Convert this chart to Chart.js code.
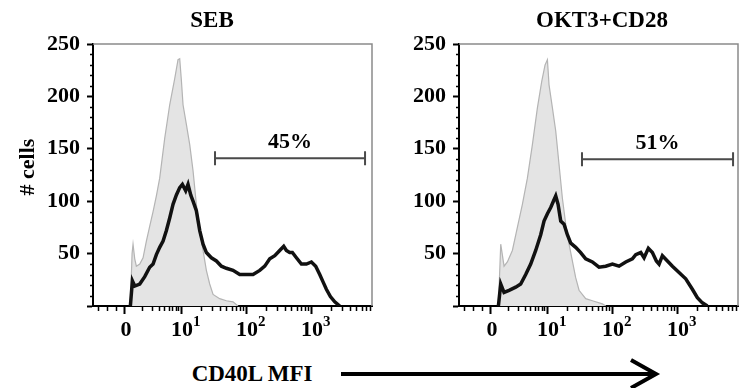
<!DOCTYPE html>
<html>
<head>
<meta charset="utf-8">
<script src="https://cdn.jsdelivr.net/npm/chart.js@4.4.1/dist/chart.umd.min.js"></script>
<style>
  body { margin: 0; background: #fff; }
  #wrap { position: relative; width: 741px; height: 388px; overflow: hidden; background: #fff; }
  canvas { position: absolute; top: 0; }
  #xTitle {
    position: absolute; left: 152px; top: 361px; width: 200px; text-align: center;
    font: bold 23px "Liberation Serif", "Times New Roman", serif; line-height: 26px; color: #000;
  }
  #arrow { position: absolute; left: 0; top: 0; }
</style>
</head>
<body>
<div id="wrap">
  <canvas id="sebChart" width="375" height="340" style="left:0;width:375px;height:340px"></canvas>
  <canvas id="oktChart" width="375" height="340" style="left:366px;width:375px;height:340px"></canvas>
  <div id="xTitle">CD40L MFI</div>
  <svg id="arrow" width="741" height="388">
    <line x1="341" y1="374" x2="655" y2="374" stroke="#000" stroke-width="4"/>
    <polyline points="631,360 656,374 631,388" fill="none" stroke="#000" stroke-width="4"/>
  </svg>
</div>
<script>
// x values are in display (logicle) units: 1 = 10^1, 2 = 10^2, 3 = 10^3
const xMajorTicks = [0.138, 1, 2, 3];
const xTickBase = ['0', '10', '10', '10'];
const xTickExp = ['', '1', '2', '3'];
const yMajorTicks = [0, 50, 100, 150, 200, 250];

// SEB panel
const sebIsoX = [0.221, 0.247, 0.262, 0.288, 0.313, 0.365, 0.416, 0.467, 0.518, 0.570, 0.621, 0.672, 0.749, 0.826, 0.903, 0.954, 0.980, 1.006, 1.031, 1.083, 1.134, 1.185, 1.236, 1.288, 1.339, 1.390, 1.441, 1.493, 1.595, 1.698, 1.800, 1.877];
const sebIsoY = [0, 50, 59, 45, 38, 40, 46, 62, 76, 90, 105, 122, 160, 192, 217, 235, 236, 215, 192, 173, 154, 129, 97, 72, 53, 34, 21, 11, 7, 5, 4, 0];
const sebStimX = [0.221, 0.252, 0.288, 0.365, 0.442, 0.518, 0.570, 0.621, 0.672, 0.724, 0.775, 0.826, 0.877, 0.929, 0.980, 1.021, 1.072, 1.108, 1.149, 1.185, 1.236, 1.288, 1.339, 1.390, 1.467, 1.544, 1.621, 1.698, 1.800, 1.903, 2.006, 2.108, 2.211, 2.288, 2.365, 2.442, 2.518, 2.580, 2.621, 2.672, 2.713, 2.775, 2.852, 2.929, 3.006, 3.072, 3.134, 3.185, 3.236, 3.298, 3.365, 3.442];
const sebStimY = [0, 24, 19, 21, 28, 37, 40, 49, 56, 62, 72, 84, 97, 106, 113, 116, 110, 116, 106, 100, 91, 72, 59, 51, 46, 43, 38, 36, 34, 30, 30, 30, 34, 38, 45, 48, 53, 57, 53, 51, 51, 46, 40, 40, 42, 38, 30, 23, 16, 9, 4, 0];

// OKT3+CD28 panel
const oktIsoX = [0.252, 0.288, 0.339, 0.390, 0.467, 0.544, 0.621, 0.698, 0.775, 0.852, 0.918, 0.970, 1.006, 1.031, 1.083, 1.134, 1.185, 1.236, 1.288, 1.339, 1.390, 1.441, 1.493, 1.595, 1.698, 1.852, 1.903];
const oktIsoY = [0, 59, 38, 42, 53, 75, 97, 122, 154, 189, 214, 230, 235, 211, 189, 167, 135, 103, 78, 59, 43, 27, 15, 7, 5, 2, 0];
const oktStimX = [0.252, 0.288, 0.339, 0.416, 0.518, 0.595, 0.672, 0.749, 0.826, 0.903, 0.954, 1.006, 1.057, 1.098, 1.134, 1.170, 1.211, 1.262, 1.313, 1.365, 1.441, 1.518, 1.595, 1.698, 1.800, 1.903, 2.006, 2.108, 2.211, 2.313, 2.365, 2.442, 2.493, 2.559, 2.621, 2.682, 2.724, 2.775, 2.852, 2.929, 3.031, 3.134, 3.236, 3.313, 3.390, 3.467];
const oktStimY = [0, 21, 13, 15, 18, 21, 30, 40, 53, 68, 81, 88, 94, 100, 105, 97, 81, 78, 68, 60, 56, 51, 45, 42, 37, 38, 40, 38, 42, 45, 49, 51, 46, 55, 51, 43, 40, 48, 43, 38, 32, 26, 16, 8, 3, 0];

const panelTitles = ['SEB', 'OKT3+CD28'];
const gatePercents = ['45%', '51%'];
const sebGate = [1.523, 3.831, 141];
const oktGate = [1.538, 3.862, 140];

const serif = '"Liberation Serif", "Times New Roman", serif';

// minor ticks
const yMinorTicks = [];
for (let v = 10; v < 250; v += 10) if (v % 50 !== 0) yMinorTicks.push(v);
const xMinorTicks = [];
[1, 2, 3].forEach(n => xMinorTicks.push(xMajorTicks[0] - 0.14 * n));
for (let m = 2; m <= 9; m++) xMinorTicks.push(xMajorTicks[0] + (1 - xMajorTicks[0]) * Math.log10(m));
[1, 2, 3].forEach(k => { for (let m = 2; m <= 9; m++) xMinorTicks.push(k + Math.log10(m)); });

const panelDecor = {
    id: 'panelDecor',
    afterDraw(chart, args, opts) {
        const { ctx, chartArea: a } = chart;
        const x = chart.scales.x, y = chart.scales.y;
        ctx.save();
        // top / right frame
        ctx.strokeStyle = '#8a8a8a';
        ctx.lineWidth = 1.5;
        ctx.beginPath();
        ctx.moveTo(a.left, a.top);
        ctx.lineTo(a.right, a.top);
        ctx.lineTo(a.right, a.bottom);
        ctx.stroke();

        // minor ticks
        ctx.strokeStyle = '#000';
        ctx.lineWidth = 1.5;
        ctx.beginPath();
        yMinorTicks.forEach(v => {
            const py = Math.round(y.getPixelForValue(v)) + 0.5;
            ctx.moveTo(a.left - 3, py);
            ctx.lineTo(a.left, py);
        });
        xMinorTicks.forEach(v => {
            if (v < x.min || v > x.max) return;
            const px = Math.round(x.getPixelForValue(v)) + 0.5;
            ctx.moveTo(px, a.bottom);
            ctx.lineTo(px, a.bottom + 5);
        });
        ctx.stroke();

        // x tick labels with superscript exponents
        ctx.fillStyle = '#000';
        ctx.textBaseline = 'middle';
        xMajorTicks.forEach((v, i) => {
            const px = x.getPixelForValue(v) + 1;
            ctx.font = 'bold 22px ' + serif;
            ctx.textAlign = 'center';
            ctx.fillText(xTickBase[i], px, 330);
            if (xTickExp[i]) {
                const w = ctx.measureText(xTickBase[i]).width;
                ctx.font = 'bold 15px ' + serif;
                ctx.textAlign = 'left';
                ctx.fillText(xTickExp[i], px + w / 2, 322);
            }
        });

        // gate bar
        const g = opts.gate;
        const gx1 = x.getPixelForValue(g[0]), gx2 = x.getPixelForValue(g[1]);
        const gy = y.getPixelForValue(g[2]);
        ctx.strokeStyle = '#4a4a4a';
        ctx.lineWidth = 2;
        ctx.beginPath();
        ctx.moveTo(gx1, gy); ctx.lineTo(gx2, gy);
        ctx.moveTo(gx1, gy - 7); ctx.lineTo(gx1, gy + 7);
        ctx.moveTo(gx2, gy - 7); ctx.lineTo(gx2, gy + 7);
        ctx.stroke();

        ctx.font = 'bold 22px ' + serif;
        ctx.textAlign = 'center';
        ctx.fillText(opts.percent, (gx1 + gx2) / 2, gy - 16);

        // panel title
        ctx.font = 'bold 23px ' + serif;
        ctx.fillText(opts.title, opts.titleX, 21);

        // y axis title
        if (opts.yTitle) {
            ctx.translate(28, 167);
            ctx.rotate(-Math.PI / 2);
            ctx.font = 'bold 22px ' + serif;
            ctx.fillText(opts.yTitle, 0, 0);
        }
        ctx.restore();
    }
};

function toPoints(xs, ys) {
    return xs.map((v, i) => ({ x: v, y: ys[i] }));
}

function drawPanel(canvasId, isoX, isoY, stimX, stimY, decor) {
    const ctx = document.getElementById(canvasId).getContext('2d');
    return new Chart(ctx, {
        type: 'line',
        data: {
            datasets: [{
                data: toPoints(stimX, stimY),
                borderColor: '#111',
                borderWidth: 3.5,
                fill: false,
                pointRadius: 0,
                tension: 0,
                order: 0
            }, {
                data: toPoints(isoX, isoY),
                borderColor: '#b4b4b4',
                borderWidth: 1.2,
                backgroundColor: '#e4e4e4',
                fill: 'origin',
                pointRadius: 0,
                tension: 0,
                order: 1
            }]
        },
        options: {
            responsive: false,
            animation: false,
            events: [],
            layout: { padding: { top: 44, right: 3, left: 0, bottom: 0 } },
            plugins: {
                legend: { display: false },
                tooltip: { enabled: false },
                title: { display: false },
                panelDecor: decor
            },
            scales: {
                x: {
                    type: 'linear',
                    min: -0.354,
                    max: 3.938,
                    afterFit: s => { s.height = 34; },
                    afterBuildTicks: s => { s.ticks = xMajorTicks.map(v => ({ value: v })); },
                    ticks: { display: false },
                    grid: { drawOnChartArea: false, tickLength: 8, tickWidth: 2, tickColor: '#000' },
                    border: { display: true, color: '#000', width: 2 }
                },
                y: {
                    min: 0,
                    max: 250,
                    afterFit: s => { s.width = 93; },
                    afterBuildTicks: s => { s.ticks = yMajorTicks.map(v => ({ value: v })); },
                    ticks: {
                        callback: v => (v === 0 ? '' : v),
                        padding: 7,
                        color: '#000',
                        font: { family: serif, size: 22, weight: 'bold' }
                    },
                    grid: { drawOnChartArea: false, tickLength: 6, tickWidth: 2, tickColor: '#000' },
                    border: { display: true, color: '#000', width: 2 }
                }
            }
        },
        plugins: [panelDecor]
    });
}

drawPanel('sebChart', sebIsoX, sebIsoY, sebStimX, sebStimY,
    { gate: sebGate, percent: gatePercents[0], title: panelTitles[0], titleX: 212, yTitle: '# cells' });
drawPanel('oktChart', oktIsoX, oktIsoY, oktStimX, oktStimY,
    { gate: oktGate, percent: gatePercents[1], title: panelTitles[1], titleX: 236 });
</script>
</body>
</html>
